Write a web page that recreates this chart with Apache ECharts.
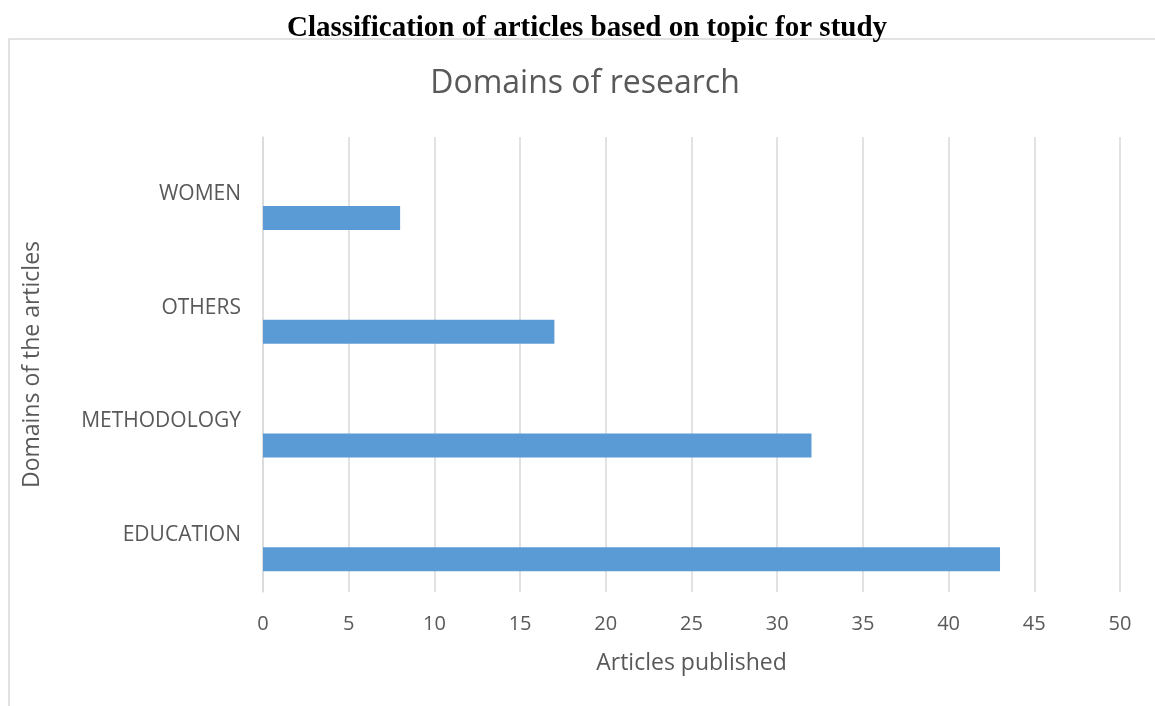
<!DOCTYPE html>
<html>
<head>
<meta charset="utf-8">
<script src="https://cdn.jsdelivr.net/npm/echarts@6/dist/echarts.min.js"></script>
<style>
html,body{margin:0;padding:0;background:#fff;}
#main{width:1155px;height:706px;}
</style>
</head>
<body>
<div id="main"></div>
<script>
var categories = ['EDUCATION', 'METHODOLOGY', 'OTHERS', 'WOMEN'];
var articles = [43, 32, 17, 8];
var placeholder = [null, null, null, null];
var xTicks = [0, 5, 10, 15, 20, 25, 30, 35, 40, 45, 50];

var chart = echarts.init(document.getElementById('main'));
var font = '"Open Sans", sans-serif';
chart.setOption({
  animation: false,
  backgroundColor: '#fff',
  title: [{
    text: 'Classification of articles based on topic for study',
    left: 582, textAlign: 'center', top: 9,
    textStyle: { fontFamily: '"Liberation Serif", "Times New Roman", serif', fontWeight: 'bold', fontSize: 29, color: '#000' }
  }, {
    text: 'Domains of research',
    left: 580, textAlign: 'center', top: 63,
    textStyle: { fontFamily: font, fontWeight: 'normal', fontSize: 32, color: '#595959' }
  }],
  graphic: [{
    type: 'rect', silent: true,
    shape: { x: 9, y: 39, width: 1300, height: 800 },
    style: { fill: 'none', stroke: '#d9d9d9', lineWidth: 1.5 }
  }],
  grid: { left: 263, right: 35, top: 137, bottom: 114, containLabel: false },
  xAxis: {
    type: 'value', min: xTicks[0], max: xTicks[xTicks.length - 1], interval: 5,
    name: 'Articles published', nameLocation: 'middle', nameGap: 60,
    nameTextStyle: { fontFamily: font, fontSize: 23, color: '#595959' },
    axisLine: { show: false }, axisTick: { show: false },
    axisLabel: { fontFamily: font, fontSize: 20, color: '#595959', margin: 22 },
    splitLine: { show: true, lineStyle: { color: '#d9d9d9', width: 1.5 } }
  },
  yAxis: {
    type: 'category', data: categories,
    name: 'Domains of the articles', nameLocation: 'middle', nameGap: 219, nameRotate: 90,
    nameTextStyle: { fontFamily: font, fontSize: 23, color: '#595959' },
    axisLine: { show: true, lineStyle: { color: '#d9d9d9', width: 1.5 } },
    axisTick: { show: false },
    axisLabel: { fontFamily: font, fontSize: 21, color: '#595959', margin: 22 }
  },
  series: [{
    type: 'bar', data: placeholder, barWidth: 24, barGap: '100%', silent: true
  }, {
    type: 'bar', data: articles, barWidth: 24, barGap: '100%',
    itemStyle: { color: '#5b9bd5' }
  }]
});
</script>
</body>
</html>
